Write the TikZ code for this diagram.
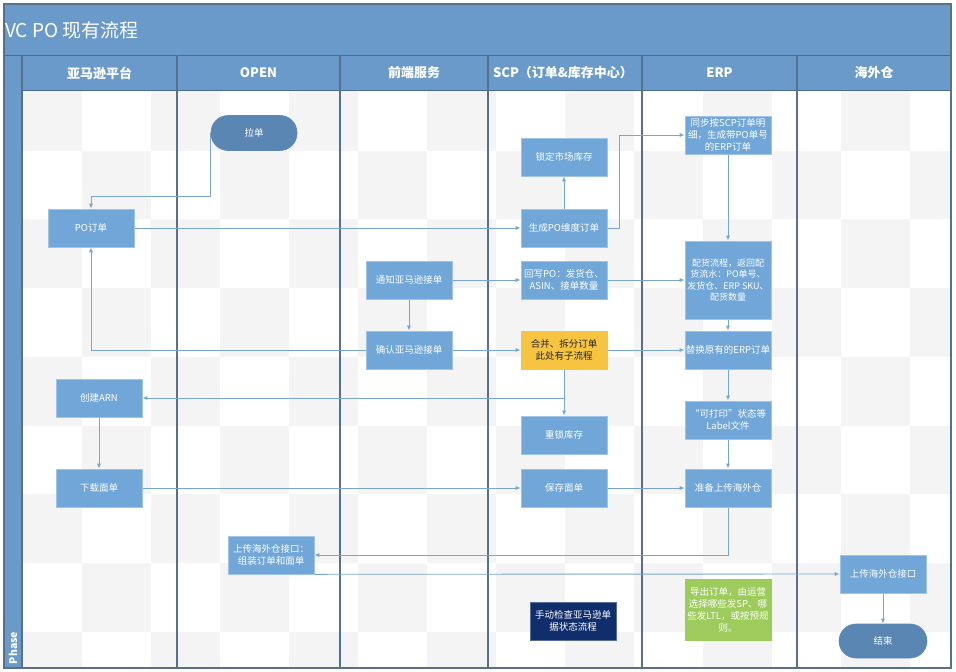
\documentclass[tikz,border=0pt]{standalone}
\usepackage{fontspec}
\setmainfont{Noto Sans CJK SC}
\usetikzlibrary{arrows.meta}
\pgfdeclarelayer{bg}
\pgfdeclarelayer{wires}
\pgfsetlayers{bg,wires,main}
\definecolor{band}{RGB}{106,154,201}
\definecolor{bandline}{RGB}{72,108,148}
\definecolor{laneline}{RGB}{88,112,140}
\definecolor{boxblue}{RGB}{112,166,216}
\definecolor{boxedge}{RGB}{160,196,232}
\definecolor{pill}{RGB}{90,134,180}
\definecolor{wire}{RGB}{120,165,210}
\definecolor{subflow}{RGB}{246,196,64}
\definecolor{navy}{RGB}{16,46,108}
\definecolor{leaf}{RGB}{157,203,92}
\definecolor{tile}{RGB}{244,244,244}

\begin{document}
\begin{tikzpicture}[x=1pt,y=-1pt,
    task/.style={draw=boxedge, line width=0.6pt, fill=boxblue, text=white,
        minimum width=86pt, minimum height=38pt, align=center, inner sep=1pt,
        font=\fontsize{9.5}{11.8}\selectfont},
    term/.style={task, fill=pill, draw=pill, rounded corners=17pt, minimum height=35pt},
    flow/.style={draw=wire, line width=0.9pt, -{Latex[length=5pt,width=4pt]}},
    head/.style={text=white, font=\fontsize{13}{15}\selectfont\bfseries}]
    \useasboundingbox (0,0) rectangle (956,672);

    % frame, bands and tiles
    \begin{pgfonlayer}{bg}
    \fill[white] (4,4) rectangle (951,668);
    \begin{scope}
    \clip (22,90) rectangle (951,668);
    \foreach \i in {0,...,13}{\foreach \j in {0,...,8}{
        \pgfmathtruncatemacro{\tileodd}{mod(\i+\j,2)}
        \ifnum\tileodd=0 \fill[tile] ({13+69*\i},{82+68.7*\j}) rectangle +(69,68.7); \fi}}
    \end{scope}
    \fill[band] (4,4) rectangle (951,90);
    \fill[band] (4,55) rectangle (22,668);
    \draw[bandline, line width=1pt] (4,55) -- (951,55);
    \draw[bandline, line width=1pt] (22,90) -- (951,90);
    \foreach \x in {22,177,340,488,642,797}
        \draw[laneline, line width=1.2pt] (\x,55) -- (\x,668);
    \draw[laneline, line width=1.2pt] (4,4) rectangle (951,668);
    \end{pgfonlayer}

    \node[anchor=west, inner sep=1pt, text=white, font=\fontsize{19}{21}\selectfont] (title) at (4,30) {VC PO 现有流程};
    \node[head] (h1) at (99.5,73) {亚马逊平台};
    \node[head] (h2) at (258.5,73) {OPEN};
    \node[head] (h3) at (414,73) {前端服务};
    \node[head] (h4) at (563,73) {SCP（订单\&库存中心）};
    \node[head] (h5) at (719.5,73) {ERP};
    \node[head] (h6) at (874,73) {海外仓};
    \node[rotate=90, text=white, font=\fontsize{10.5}{12}\selectfont\bfseries] (phase) at (13,648) {Phase};

    % steps
    \node[term] (pull) at (254,133) {拉单};
    \node[task] (po) at (91,228) {PO订单};
    \node[task] (lock) at (564,157) {锁定市场库存};
    \node[task] (gen) at (564,228) {生成PO维度订单};
    \node[task] (sync) at (728,135) {同步按SCP订单明\\细，生成带PO单号\\的ERP订单};
    \node[task, minimum height=78pt, font=\fontsize{9}{11.6}\selectfont] (alloc) at (728,280) {配货流程，返回配\\货流水：PO单号、\\发货仓、ERP SKU、\\配货数量};
    \node[task] (notify) at (409,280) {通知亚马逊接单};
    \node[task] (confirm) at (409,350) {确认亚马逊接单};
    \node[task] (writeback) at (564,280) {回写PO：发货仓、\\ASIN、接单数量};
    \node[task, fill=subflow, draw=subflow, text=black!85] (merge) at (564,350) {合并、拆分订单\\此处有子流程};
    \node[task] (replace) at (728,350) {替换原有的ERP订单};
    \node[task] (arn) at (99,398) {创建ARN};
    \node[task] (label) at (728,420) {“可打印”状态等\\Label文件};
    \node[task] (relock) at (564,435) {重锁库存};
    \node[task] (download) at (99,488) {下载面单};
    \node[task] (save) at (564,488) {保存面单};
    \node[task] (prep) at (728,488) {准备上传海外仓};
    \node[task] (pack) at (271,555) {上传海外仓接口：\\组装订单和面单};
    \node[task, fill=navy, draw=navy!70!white] (check) at (573,621) {手动检查亚马逊单\\据状态流程};
    \node[task, fill=leaf, draw=leaf, minimum height=61pt] (export) at (728,610) {导出订单，由运营\\选择哪些发SP、哪\\些发LTL，或按预规\\则。};
    \node[task] (upload) at (883,574) {上传海外仓接口};
    \node[term, minimum width=88pt, minimum height=34pt] (finish) at (883,641) {结束};

    % connectors
    \begin{pgfonlayer}{wires}
    \draw[flow] (pull.west) -- ++(0,63) -| (po.north);
    \draw[flow] (po) -- (gen);
    \draw[flow] (gen) -- (lock);
    \draw[flow] (gen.east) -- ++(12,0) |- (sync.west);
    \draw[flow] (sync) -- (alloc);
    \draw[flow] (alloc) -- (replace);
    \draw[flow] (notify) -- (writeback);
    \draw[flow] (writeback) -- (alloc);
    \draw[flow] (notify) -- (confirm);
    \draw[flow] (confirm.west) -| (po.south);
    \draw[flow] (confirm) -- (merge);
    \draw[flow] (merge) -- (replace);
    \draw[flow] (merge.south) |- (arn.east);
    \draw[flow] (merge) -- (relock);
    \draw[flow] (replace) -- (label);
    \draw[flow] (label) -- (prep);
    \draw[flow] (arn) -- (download);
    \draw[flow] (download) -- (save);
    \draw[flow] (save) -- (prep);
    \draw[flow] (prep.south) |- (pack.east);
    \draw[flow] (pack.south east) -- (upload.west);
    \draw[flow] (upload) -- (finish);
    \end{pgfonlayer}
\end{tikzpicture}
\end{document}
